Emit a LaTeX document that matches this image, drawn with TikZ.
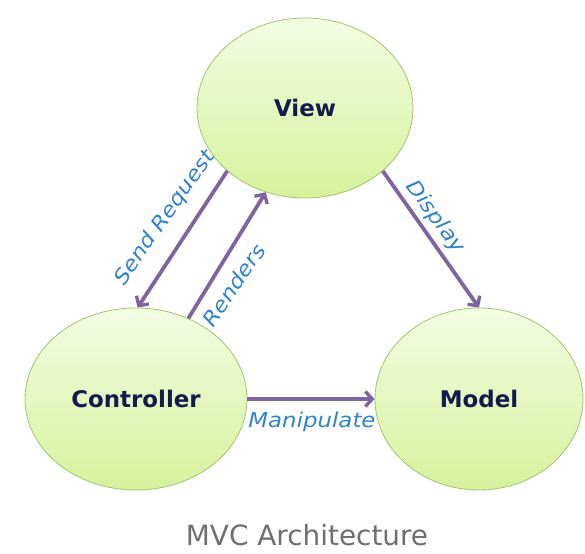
\documentclass[tikz,border=0pt]{standalone}
\usepackage{fontspec}
\setmainfont{DejaVu Sans}
\newfontfamily\lblfont[FakeStretch=1.12]{DejaVu Sans}
\usetikzlibrary{shapes.geometric,arrows.meta}

\definecolor{bubbletop}{HTML}{F3FCE3}
\definecolor{bubblebot}{HTML}{D6F29C}
\definecolor{bubbleedge}{HTML}{A3C46A}
\definecolor{nametext}{HTML}{0F1C4D}
\definecolor{flow}{HTML}{8064A2}
\definecolor{flowtext}{HTML}{2F82CF}
\definecolor{captiontext}{HTML}{6F6F6F}

\tikzset{
  bubble/.style={ellipse, draw=bubbleedge, line width=0.8pt,
    top color=bubbletop, bottom color=bubblebot, inner sep=0pt,
    font=\fontsize{23}{26}\selectfont\bfseries, text=nametext},
  flowarrow/.style={draw=flow, line width=3.8pt,
    -{Straight Barb[length=7pt,width=15pt,line width=3.4pt]}},
  flowlabel/.style={font=\lblfont\itshape\fontsize{20.5}{23}\selectfont,
    text=flowtext, inner sep=0pt},
}

\begin{document}
\begin{tikzpicture}[x=1bp,y=1bp]
  \useasboundingbox (0,0) rectangle (585,554);

  % the three parts of the pattern
  \node[bubble, minimum width=216bp, minimum height=180bp] (view) at (305,446) {View};
  \node[bubble, minimum width=222bp, minimum height=182bp] (ctrl) at (136,155) {Controller};
  \node[bubble, minimum width=208bp, minimum height=182bp] (model) at (479,155) {Model};

  % interactions
  \draw[flowarrow] (view.219) -- (ctrl.89);
  \draw[flowarrow] (ctrl.57) -- (view.245);
  \draw[flowarrow] (view.321) -- (model.90);
  \draw[flowarrow] (ctrl.0) -- (model.180);

  % interaction labels
  \node[flowlabel, rotate=55] (lsend) at (165,336) {Send Request};
  \node[flowlabel, rotate=56] (lrend) at (234,269) {Renders};
  \node[flowlabel, rotate=-54] (ldisp) at (435,337) {Display};
  \node[flowlabel] (lmanip) at (312,132) {Manipulate};

  % caption
  \node[font=\fontsize{28}{32}\selectfont, text=captiontext] (caption) at (307,19) {MVC Architecture};
\end{tikzpicture}
\end{document}
